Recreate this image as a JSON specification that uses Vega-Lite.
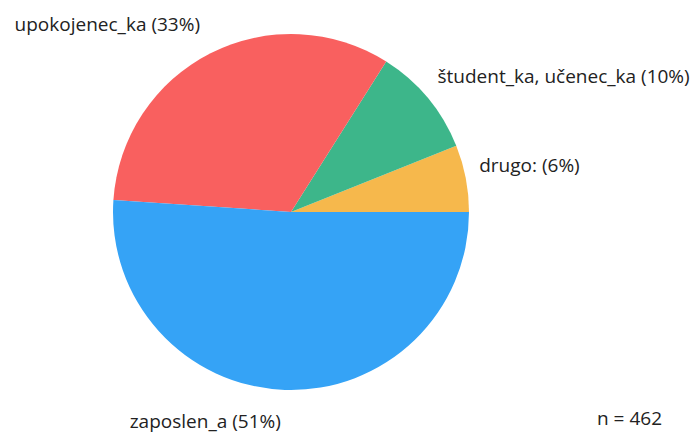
{
  "$schema": "https://vega.github.io/schema/vega-lite/v6.json",
  "width": 582,
  "height": 424,
  "autosize": {"type": "none"},
  "padding": {"left": 0, "top": 0, "right": 115, "bottom": 10},
  "background": "white",
  "config": {"view": {"stroke": null}},
  "title": {"text": "n = 462", "orient": "bottom", "anchor": "end", "frame": "group", "align": "right", "dx": 80, "offset": -13, "fontSize": 19, "fontWeight": "normal", "font": "Open Sans", "color": "#222222", "baseline": "middle"},
  "data": {"values": [
    {"kategorija": "drugo", "label": "drugo: (6%)", "n": 28, "rank": 1},
    {"kategorija": "študent_ka, učenec_ka", "label": "študent_ka, učenec_ka (10%)", "n": 46, "rank": 2},
    {"kategorija": "upokojenec_ka", "label": "upokojenec_ka (33%)", "n": 152, "rank": 3},
    {"kategorija": "zaposlen_a", "label": "zaposlen_a (51%)", "n": 236, "rank": 4}
  ]},
  "encoding": {
    "theta": {"field": "n", "type": "quantitative", "stack": true, "scale": {"range": [1.5707963, -4.712389]}},
    "order": {"field": "rank", "type": "quantitative"}
  },
  "layer": [
    {
      "mark": {"type": "arc", "outerRadius": 178},
      "encoding": {
        "color": {"field": "kategorija", "type": "nominal", "legend": null,
          "scale": {"domain": ["drugo", "študent_ka, učenec_ka", "upokojenec_ka", "zaposlen_a"], "range": ["#F6B84C", "#3DB68A", "#F9605F", "#35A3F6"]}}
      }
    },
    {
      "mark": {"type": "text", "radius": 210, "align": "left", "baseline": "middle", "dx": -18, "dy": -6, "font": "Open Sans", "fontSize": 19, "fill": "#222222"},
      "encoding": {
        "detail": {"field": "kategorija", "type": "nominal"},
        "text": {"condition": {"test": "datum.rank == 1", "field": "label"}, "value": ""}
      }
    },
    {
      "mark": {"type": "text", "radius": 210, "align": "left", "baseline": "middle", "dx": -15, "dy": -1, "font": "Open Sans", "fontSize": 19, "fill": "#222222"},
      "encoding": {
        "detail": {"field": "kategorija", "type": "nominal"},
        "text": {"condition": {"test": "datum.rank == 2", "field": "label"}, "value": ""}
      }
    },
    {
      "mark": {"type": "text", "radius": 210, "align": "right", "baseline": "middle", "dx": 4, "dy": 0, "font": "Open Sans", "fontSize": 19, "fill": "#222222"},
      "encoding": {
        "detail": {"field": "kategorija", "type": "nominal"},
        "text": {"condition": {"test": "datum.rank == 3", "field": "label"}, "value": ""}
      }
    },
    {
      "mark": {"type": "text", "radius": 210, "align": "right", "baseline": "middle", "dx": -3, "dy": 0, "font": "Open Sans", "fontSize": 19, "fill": "#222222"},
      "encoding": {
        "detail": {"field": "kategorija", "type": "nominal"},
        "text": {"condition": {"test": "datum.rank == 4", "field": "label"}, "value": ""}
      }
    }
  ]
}
